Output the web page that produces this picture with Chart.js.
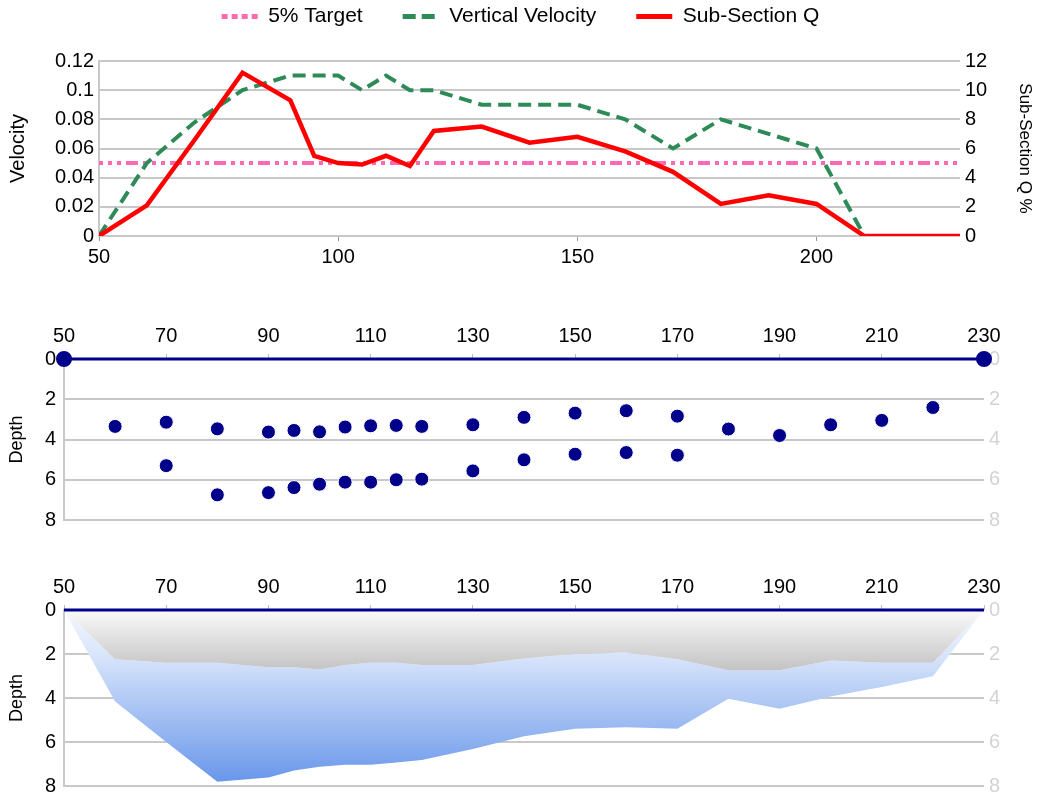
<!DOCTYPE html>
<html>
<head>
<meta charset="utf-8">
<script src="https://cdn.jsdelivr.net/npm/chart.js@4.4.0/dist/chart.umd.min.js"></script>
<style>
  body { margin: 0; background: #fff; width: 1041px; height: 797px; overflow: hidden; position: relative; }
  canvas { position: absolute; left: 0; }
</style>
</head>
<body>
<canvas id="velChart" width="1041" height="276" style="top:0"></canvas>
<canvas id="pointChart" width="1041" height="240" style="top:300px"></canvas>
<canvas id="profileChart" width="1041" height="246" style="top:560px"></canvas>
<script>
// top chart: velocity and sub-section discharge
const targetStations = [50, 230];
const targetVelocity = [0.05, 0.05];

const velStations = [50, 60, 70, 80, 90, 100, 105, 110, 115, 120, 130, 140, 150, 160, 170, 180, 190, 200, 210];
const velocity = [0, 0.05, 0.078, 0.1, 0.11, 0.11, 0.1, 0.11, 0.1, 0.1, 0.09, 0.09, 0.09, 0.08, 0.06, 0.08, 0.07, 0.06, 0];

const qStations = [50, 60, 70, 80, 90, 95, 100, 105, 110, 115, 120, 130, 140, 150, 160, 170, 180, 190, 200, 210, 220, 230];
const subSectionQ = [0, 2.1, 6.6, 11.2, 9.3, 5.5, 5.0, 4.9, 5.5, 4.8, 7.2, 7.5, 6.4, 6.8, 5.8, 4.4, 2.2, 2.8, 2.2, 0, 0, 0];

const topXTicks = [50, 100, 150, 200];

// middle chart: measurement depths
const surfaceStations = [50, 230];
const surfaceDepth = [0, 0];

const upperStations = [60, 70, 80, 90, 95, 100, 105, 110, 115, 120, 130, 140, 150, 160, 170, 180, 190, 200, 210, 220];
const upperDepth = [3.35, 3.14, 3.47, 3.63, 3.55, 3.62, 3.38, 3.32, 3.3, 3.35, 3.27, 2.9, 2.69, 2.57, 2.84, 3.48, 3.8, 3.27, 3.05, 2.41];

const lowerStations = [70, 80, 90, 95, 100, 105, 110, 115, 120, 130, 140, 150, 160, 170];
const lowerDepth = [5.3, 6.75, 6.64, 6.39, 6.22, 6.12, 6.12, 6.0, 5.97, 5.56, 5.01, 4.73, 4.65, 4.78];

// bottom chart: ice and bed profile
const profileStations = [50, 60, 70, 80, 90, 95, 100, 105, 110, 115, 120, 130, 140, 150, 160, 170, 180, 190, 200, 210, 220, 230];
const iceBottom = [0, 2.24, 2.4, 2.4, 2.6, 2.6, 2.7, 2.5, 2.4, 2.4, 2.5, 2.5, 2.2, 2.0, 1.93, 2.24, 2.74, 2.74, 2.3, 2.4, 2.4, 0];
const bedDepth = [0, 4.16, 6.0, 7.81, 7.61, 7.3, 7.12, 7.03, 7.03, 6.93, 6.82, 6.32, 5.74, 5.4, 5.33, 5.4, 4.03, 4.49, 3.93, 3.5, 3.01, 0];

const FONT = "'Liberation Sans', Arial, sans-serif";
const GRID = '#c8c8c8';
const NAVY = '#00008b';

Chart.defaults.font.family = FONT;
Chart.defaults.color = '#000';
Chart.defaults.animation = false;

const pts = (xs, ys) => xs.map((x, i) => ({ x: x, y: ys[i] }));

// move legend up without changing the plot area
const legendNudge = {
  id: 'legendNudge',
  afterLayout(chart, args, opts) {
    if (chart.legend) { chart.legend.top += opts.dy; chart.legend.bottom += opts.dy; }
  }
};

new Chart(document.getElementById('velChart'), {
  type: 'line',
  data: {
    datasets: [
      {
        label: '5% Target', data: pts(targetStations, targetVelocity), yAxisID: 'y',
        borderColor: '#ff69b4', borderWidth: 4, borderDash: [4, 5, 4, 5, 4, 5, 12, 5],
        pointRadius: 0, order: 3
      },
      {
        label: 'Vertical Velocity', data: pts(velStations, velocity), yAxisID: 'y',
        borderColor: '#2e8b57', borderWidth: 4, borderDash: [13, 7],
        pointRadius: 0, order: 2
      },
      {
        label: 'Sub-Section Q', data: pts(qStations, subSectionQ), yAxisID: 'y1',
        borderColor: '#ff0000', borderWidth: 4.5, pointRadius: 0, order: 1
      }
    ]
  },
  options: {
    responsive: false,
    layout: { padding: 0 },
    plugins: {
      tooltip: { enabled: false },
      legendNudge: { dy: -34 },
      legend: {
        position: 'top',
        maxHeight: 61,
        labels: {
          usePointStyle: true, pointStyle: 'line', pointStyleWidth: 36,
          padding: 40, color: '#000', font: { size: 21 },
          sort: (a, b) => a.datasetIndex - b.datasetIndex,
          generateLabels: chart => {
            const items = Chart.defaults.plugins.legend.labels.generateLabels(chart);
            items.forEach(it => {
              if (it.datasetIndex === 0) it.lineDash = [6, 4];
              if (it.datasetIndex === 1) it.lineDash = [13, 6];
              it.lineWidth = 5;
            });
            return items;
          }
        }
      }
    },
    scales: {
      x: {
        type: 'linear', min: 50, max: 230,
        afterBuildTicks: a => { a.ticks = topXTicks.map(v => ({ value: v })); },
        afterFit: a => { a.height = 40; },
        grid: { drawOnChartArea: false, color: '#999', tickLength: 5 },
        border: { display: false },
        ticks: { font: { size: 20 }, padding: 4, maxRotation: 0 }
      },
      y: {
        position: 'left', min: 0, max: 0.12,
        afterFit: a => { a.width = 99; },
        grid: { color: GRID, lineWidth: 2, drawTicks: false },
        border: { display: true, color: GRID, width: 2 },
        ticks: { stepSize: 0.02, font: { size: 20 }, padding: 5, callback: v => String(+v.toFixed(2)) },
        title: { display: true, text: 'Velocity', font: { size: 20 }, padding: { top: 6, bottom: 0 } }
      },
      y1: {
        position: 'right', min: 0, max: 12,
        afterFit: a => { a.width = 81; },
        grid: { drawOnChartArea: false, drawTicks: false },
        border: { display: false },
        ticks: { stepSize: 2, font: { size: 20 }, padding: 5 },
        title: { display: true, text: 'Sub-Section Q %', font: { size: 17 }, padding: { top: 6, bottom: 0 } }
      }
    }
  },
  plugins: [legendNudge]
});

function depthScales(topHeight) {
  return {
    x: {
      type: 'linear', position: 'top', min: 50, max: 230,
      afterFit: a => { a.height = topHeight; },
      grid: { drawOnChartArea: false, color: '#bbb', tickLength: 5 },
      border: { display: false },
      ticks: { stepSize: 20, font: { size: 20 }, padding: 6, maxRotation: 0 }
    },
    y: {
      position: 'left', reverse: true, min: 0, max: 8,
      afterFit: a => { a.width = 64; },
      grid: { color: GRID, lineWidth: 2, drawTicks: false },
      border: { display: true, color: GRID, width: 2 },
      ticks: { stepSize: 2, font: { size: 20 }, padding: 8 },
      title: { display: true, text: 'Depth', font: { size: 18 }, padding: { top: 6, bottom: 0 } }
    },
    y2: {
      position: 'right', reverse: true, min: 0, max: 8,
      afterFit: a => { a.width = 57; },
      grid: { drawOnChartArea: false, drawTicks: false },
      border: { display: false },
      ticks: { stepSize: 2, font: { size: 20 }, padding: 5, color: '#d3d3d3' }
    }
  };
}

new Chart(document.getElementById('pointChart'), {
  type: 'line',
  data: {
    datasets: [
      {
        label: 'Surface', data: pts(surfaceStations, surfaceDepth),
        borderColor: NAVY, borderWidth: 3, pointRadius: 6.5,
        pointBackgroundColor: NAVY, pointBorderColor: NAVY, clip: false
      },
      {
        label: 'Upper', data: pts(upperStations, upperDepth), showLine: false,
        pointRadius: 7, pointBackgroundColor: NAVY, pointBorderColor: '#fff', pointBorderWidth: 1
      },
      {
        label: 'Lower', data: pts(lowerStations, lowerDepth), showLine: false,
        pointRadius: 7, pointBackgroundColor: NAVY, pointBorderColor: '#fff', pointBorderWidth: 1
      }
    ]
  },
  options: {
    responsive: false,
    layout: { padding: { bottom: 20 } },
    plugins: { legend: { display: false }, tooltip: { enabled: false } },
    scales: depthScales(59)
  }
});

function vGradient(chart, stops) {
  const area = chart.chartArea;
  if (!area) return 'rgba(0,0,0,0)';
  const y = chart.scales.y;
  const g = chart.ctx.createLinearGradient(0, y.getPixelForValue(stops[0][0]), 0, y.getPixelForValue(stops[stops.length - 1][0]));
  stops.forEach(s => g.addColorStop((s[0] - stops[0][0]) / (stops[stops.length - 1][0] - stops[0][0]), s[1]));
  return g;
}

new Chart(document.getElementById('profileChart'), {
  type: 'line',
  data: {
    datasets: [
      {
        label: 'Surface', data: pts(surfaceStations, surfaceDepth),
        borderColor: NAVY, borderWidth: 3, pointRadius: 0, clip: false
      },
      {
        label: 'Ice', data: pts(profileStations, iceBottom),
        borderWidth: 0, pointRadius: 0, fill: 'origin',
        backgroundColor: ctx => vGradient(ctx.chart, [[0, '#fafafa'], [2.7, '#c4c4c4']])
      },
      {
        label: 'Bed', data: pts(profileStations, bedDepth),
        borderWidth: 0, pointRadius: 0, fill: '-1',
        backgroundColor: ctx => vGradient(ctx.chart, [[0, '#f4f8fe'], [2.2, '#d6e3fa'], [8, '#6594ea']])
      }
    ]
  },
  options: {
    responsive: false,
    layout: { padding: { bottom: 12 } },
    plugins: { legend: { display: false }, tooltip: { enabled: false } },
    scales: depthScales(50)
  }
});
</script>
</body>
</html>
